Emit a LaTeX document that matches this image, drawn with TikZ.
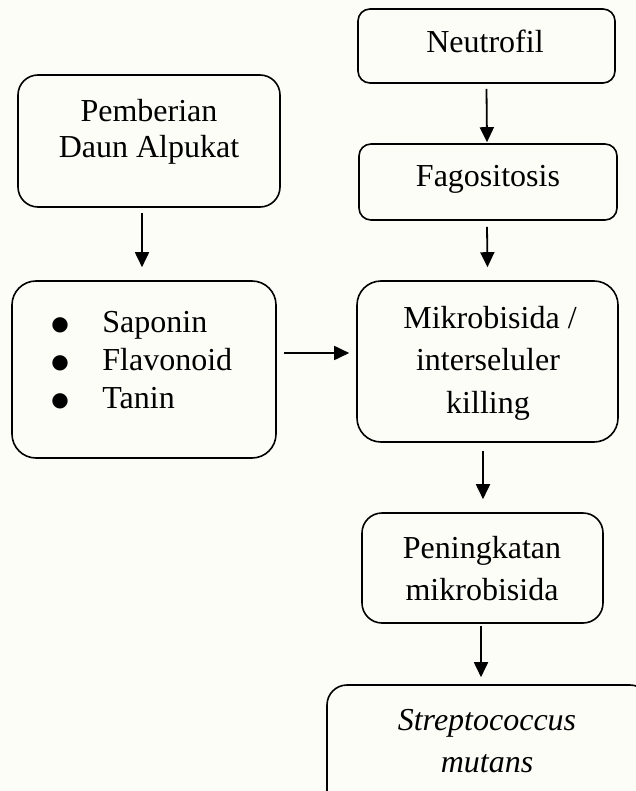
\documentclass[tikz,border=0pt]{standalone}
\usepackage{fontspec}
\setmainfont{Liberation Serif}
\newfontfamily\dejavu{DejaVu Sans}
\usetikzlibrary{arrows.meta}
\definecolor{bgc}{RGB}{253,253,248}
\newcommand{\bigbul}{\raisebox{1pt}{\dejavu\fontsize{10}{12}\selectfont ●}}
\tikzset{
  box/.style={draw=black, line width=0.8pt, rectangle, inner sep=0pt},
  arr/.style={line width=0.9pt, -{Triangle[length=7.5pt,width=7pt]}},
  txt/.style={anchor=base, inner sep=0pt, font=\fontsize{16}{19}\selectfont}
}
\begin{document}
\begin{tikzpicture}[x=0.5pt,y=-0.5pt]
\fill[bgc] (0,0) rectangle (636,791);
\useasboundingbox (0,0) rectangle (636,791);
% boxes
\node[box, rounded corners=10pt, minimum width=131pt, minimum height=66pt] (A) at (149,141) {};
\node[box, rounded corners=12pt, minimum width=132pt, minimum height=88.5pt] (B) at (144,369.5) {};
\node[box, rounded corners=6pt, minimum width=128.5pt, minimum height=37pt] (N) at (486.5,46) {};
\node[box, rounded corners=6pt, minimum width=129pt, minimum height=38pt] (F) at (488,182) {};
\node[box, rounded corners=12pt, minimum width=130.5pt, minimum height=80.5pt] (M) at (487.5,361.5) {};
\node[box, rounded corners=10pt, minimum width=120.5pt, minimum height=55pt] (P) at (482.5,568) {};
\node[box, rounded corners=10pt, minimum width=161.5pt, minimum height=72.5pt] (S) at (488.5,757.5) {};
% texts
\node[txt] (a1) at (149,122) {Pemberian};
\node[txt] (a2) at (149,158) {Daun Alpukat};
\node[txt] (b1d) at (60,332) {\bigbul};
\node[txt] (b2d) at (60,370) {\bigbul};
\node[txt] (b3d) at (60,408) {\bigbul};
\node[txt, anchor=base west] (b1) at (102,332) {Saponin};
\node[txt, anchor=base west] (b2) at (102,370) {Flavonoid};
\node[txt, anchor=base west] (b3) at (102,408) {Tanin};
\node[txt] (n1) at (485,53) {Neutrofil};
\node[txt] (f1) at (488,187) {Fagositosis};
\node[txt] (m1) at (490,328) {Mikrobisida /};
\node[txt] (m2) at (488,370) {interseluler};
\node[txt] (m3) at (488,413) {killing};
\node[txt] (p1) at (482,558) {Peningkatan};
\node[txt] (p2) at (482,600) {mikrobisida};
\node[txt] (s1) at (487,730) {\itshape Streptococcus};
\node[txt] (s2) at (487,772) {\itshape mutans};
% arrows
\draw[arr] ([xshift=-3.5pt,yshift=-2.5pt]A.south) -- ([xshift=-1pt,yshift=6.5pt]B.north);
\draw[arr] ([xshift=3.5pt,yshift=8.25pt]B.east) -- ([xshift=-3.5pt,yshift=4.25pt]M.west);
\draw[arr] ([yshift=-2.5pt]N.south) -- ([xshift=-0.5pt,yshift=0.5pt]F.north);
\draw[arr] ([xshift=-0.5pt,yshift=-3pt]F.south) -- ([yshift=6.5pt]M.north);
\draw[arr] ([xshift=-2.25pt,yshift=-4pt]M.south) -- ([xshift=0.25pt,yshift=6.5pt]P.north);
\draw[arr] ([xshift=-0.75pt,yshift=-1pt]P.south) -- ([xshift=-3.75pt,yshift=3.5pt]S.north);
\end{tikzpicture}
\end{document}
